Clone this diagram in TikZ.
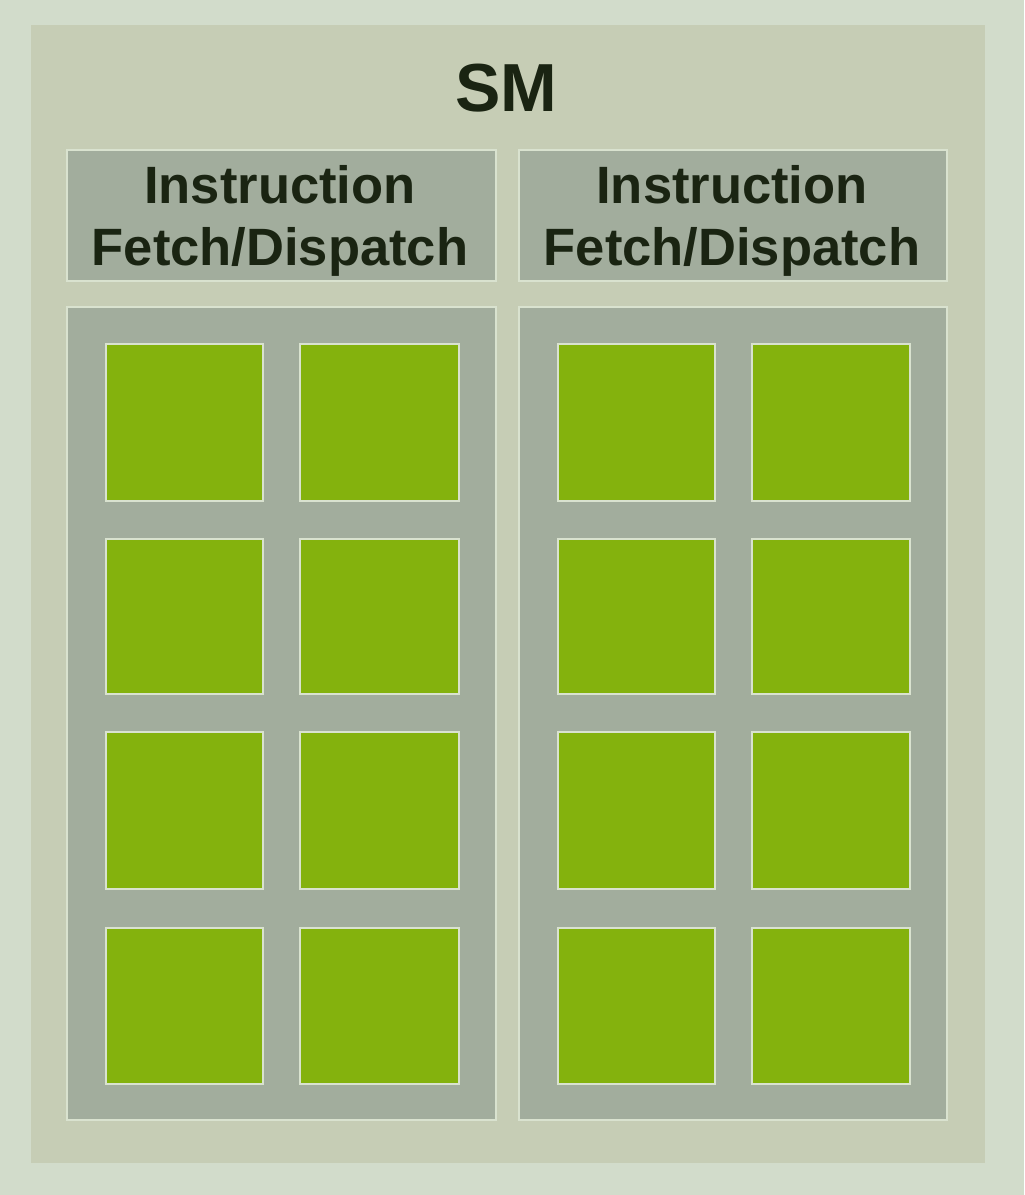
\documentclass[tikz,border=0pt]{standalone}
\usepackage{fontspec}
\setmainfont{Liberation Sans}
\definecolor{bgc}{HTML}{D2DCCB}
\definecolor{smc}{HTML}{C6CDB5}
\definecolor{panelc}{HTML}{A2AD9D}
\definecolor{greenc}{HTML}{84B20D}
\definecolor{edgec}{HTML}{D9E2CF}
\definecolor{textc}{HTML}{1A2412}
\tikzset{
  panelbox/.style={draw=edgec, line width=2pt, fill=panelc},
  corebox/.style={draw=edgec, line width=2pt, fill=greenc},
  labeltext/.style={text=textc, font=\bfseries\fontsize{39.4pt}{46pt}\selectfont, anchor=base, inner sep=0pt},
}
\begin{document}
\begin{tikzpicture}[x=0.75pt,y=-0.75pt]
\useasboundingbox (0,0) rectangle (1024,1195);
\fill[bgc] (0,0) rectangle (1024,1195);
\fill[smc] (31,25) rectangle (985,1163);
\node[text=textc, font=\bfseries\fontsize{51pt}{60pt}\selectfont, anchor=base, inner sep=0pt] (sm) at (506,112) {SM};
% instruction boxes
\draw[panelbox] (67,150) rectangle (496,281);
\draw[panelbox] (519,150) rectangle (947,281);
\node[labeltext] (i1a) at (280,203) {Instruction};
\node[labeltext] (i1b) at (280,265) {Fetch/Dispatch};
\node[labeltext] (i2a) at (732,203) {Instruction};
\node[labeltext] (i2b) at (732,265) {Fetch/Dispatch};
% core panels
\draw[panelbox] (67,307) rectangle (496,1120);
\draw[panelbox] (519,307) rectangle (947,1120);
% cores
\foreach \x/\w in {106/263, 300/459, 558/715, 752/910}{
  \foreach \y/\h in {344/501, 539/694, 732/889, 928/1084}{
    \draw[corebox] (\x,\y) rectangle (\w,\h);
  }
}
\end{tikzpicture}
\end{document}
